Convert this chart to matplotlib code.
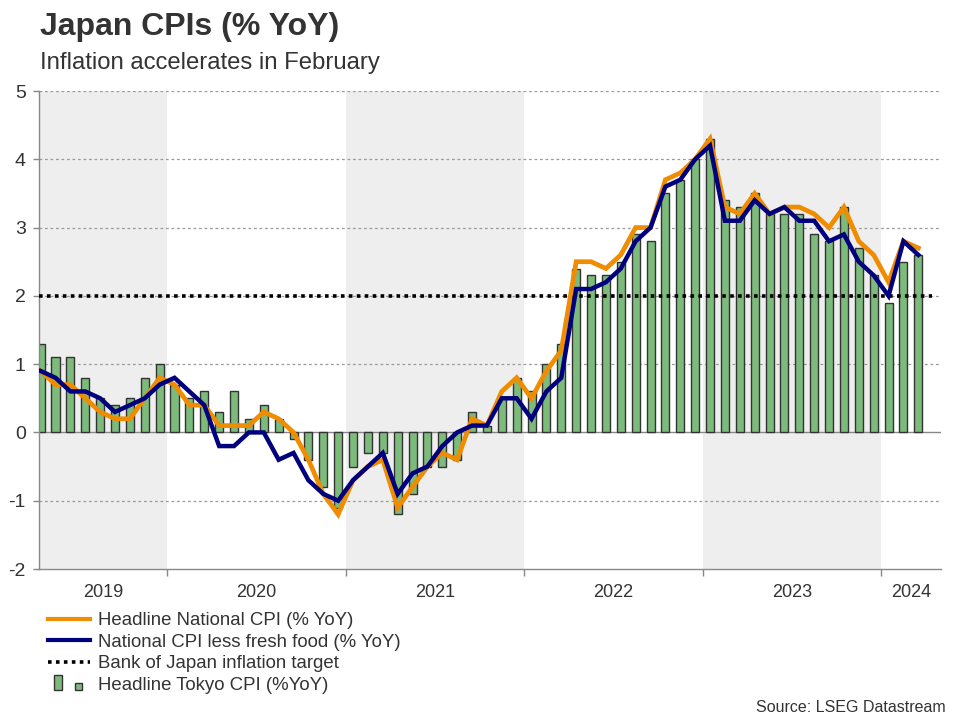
import numpy as np
import pandas as pd
import matplotlib
matplotlib.use("Agg")
import matplotlib.pyplot as plt
from matplotlib.lines import Line2D
from matplotlib.patches import Rectangle
from matplotlib.legend_handler import HandlerBase

plt.rcParams['font.family'] = ['Liberation Sans', 'DejaVu Sans']

# ---------------- data ----------------
months = pd.period_range('2019-04', '2024-03', freq='M')

headline_national = [
    0.9, 0.7, 0.7, 0.5, 0.3, 0.2, 0.2, 0.5, 0.8,                  # 2019 Apr-Dec
    0.7, 0.4, 0.4, 0.1, 0.1, 0.1, 0.3, 0.2, 0.0, -0.4, -0.9, -1.2,  # 2020
    -0.7, -0.5, -0.4, -1.1, -0.8, -0.5, -0.3, -0.4, 0.2, 0.1, 0.6, 0.8,  # 2021
    0.5, 0.9, 1.2, 2.5, 2.5, 2.4, 2.6, 3.0, 3.0, 3.7, 3.8, 4.0,     # 2022
    4.3, 3.3, 3.2, 3.5, 3.2, 3.3, 3.3, 3.2, 3.0, 3.3, 2.8, 2.6,     # 2023
    2.2, 2.8, 2.7,                                                  # 2024
]
core_national = [
    0.9, 0.8, 0.6, 0.6, 0.5, 0.3, 0.4, 0.5, 0.7,
    0.8, 0.6, 0.4, -0.2, -0.2, 0.0, 0.0, -0.4, -0.3, -0.7, -0.9, -1.0,
    -0.7, -0.5, -0.3, -0.9, -0.6, -0.5, -0.2, 0.0, 0.1, 0.1, 0.5, 0.5,
    0.2, 0.6, 0.8, 2.1, 2.1, 2.2, 2.4, 2.8, 3.0, 3.6, 3.7, 4.0,
    4.2, 3.1, 3.1, 3.4, 3.2, 3.3, 3.1, 3.1, 2.8, 2.9, 2.5, 2.3,
    2.0, 2.8, 2.6,
]
tokyo_headline = [
    1.3, 1.1, 1.1, 0.8, 0.5, 0.4, 0.5, 0.8, 1.0,
    0.7, 0.5, 0.6, 0.3, 0.6, 0.2, 0.4, 0.2, -0.1, -0.4, -0.8, -1.1,
    -0.5, -0.3, -0.3, -1.2, -0.9, -0.5, -0.5, -0.4, 0.3, 0.1, 0.5, 0.8,
    0.6, 1.0, 1.3, 2.4, 2.3, 2.3, 2.5, 2.9, 2.8, 3.5, 3.7, 4.0,
    4.3, 3.4, 3.3, 3.5, 3.2, 3.2, 3.2, 2.9, 2.8, 3.3, 2.7, 2.3,
    1.9, 2.5, 2.6,
]
boj_target = 2.0
years = [2019, 2020, 2021, 2022, 2023, 2024]
shaded_years = [2019, 2021, 2023]
y_ticks = [-2, -1, 0, 1, 2, 3, 4, 5]

labels = ['Headline National CPI (% YoY)',
          'National CPI less fresh food (% YoY)',
          'Bank of Japan inflation target',
          'Headline Tokyo CPI (%YoY)']

# ---------------- styles ----------------
ORANGE = '#EF8C00'
NAVY = '#00007F'
GREEN = '#7CBB7C'
EDGE = '#333333'
SHADE = '#EEEEEE'
TXT = '#333333'
GRID = '#999999'

W, H = 960, 720
fig = plt.figure(figsize=(9.6, 7.2), dpi=100)
ax_left, ax_right, ax_top, ax_bot = 39, 940.6, 91, 569
ax = fig.add_axes([ax_left / W, 1 - ax_bot / H, (ax_right - ax_left) / W, (ax_bot - ax_top) / H])

x = np.arange(len(months))
xmin, xmax = -0.11, len(months) + 0.5
ax.set_xlim(xmin, xmax)
ax.set_ylim(y_ticks[0], y_ticks[-1])

# year spans
year_arr = np.array([p.year for p in months])
bounds = {}
for i, yr in enumerate(years):
    idx = np.where(year_arr == yr)[0]
    a = max(idx[0] - 0.5, xmin)
    b = xmax if i == len(years) - 1 else idx[-1] + 0.5
    bounds[yr] = (a, b)
for yr in shaded_years:
    a, b = bounds[yr]
    ax.axvspan(a, b, color=SHADE, lw=0, zorder=0)

# grid
for yv in y_ticks:
    if yv == 0:
        ax.axhline(yv, color='#888888', lw=1.0, zorder=1)
    elif yv != y_ticks[0]:
        ax.axhline(yv, color=GRID, lw=0.9, ls=(0, (2.2, 2.2)), zorder=1)

# bars
ax.bar(x, tokyo_headline, width=0.54, color=GREEN, edgecolor=EDGE, linewidth=1.0, zorder=2)

# BoJ target
ax.axhline(boj_target, xmin=0.0, xmax=0.99, color='black', lw=2.6, ls=(0, (1, 1.2)), zorder=3)

# lines
ax.plot(x, headline_national, color=ORANGE, lw=3.4, zorder=4, solid_joinstyle='miter')
ax.plot(x, core_national, color=NAVY, lw=3.2, zorder=5, solid_joinstyle='miter')

# spines
for s in ['top', 'right']:
    ax.spines[s].set_visible(False)
for s in ['left', 'bottom']:
    ax.spines[s].set_color('#888888')
    ax.spines[s].set_linewidth(1.0)

# y ticks
ax.set_yticks(y_ticks)
ax.set_yticklabels([str(v) for v in y_ticks])
ax.tick_params(axis='y', length=4.5, width=1.0, color='#888888', labelsize=14, labelcolor=TXT, pad=5)

# x ticks: boundaries as major ticks, labels at year centres
ax.set_xticks([bounds[yr][0] for yr in years[1:]])
ax.set_xticklabels([])
ax.set_xticks([(bounds[yr][0] + bounds[yr][1]) / 2 for yr in years], minor=True)
ax.set_xticklabels([str(yr) for yr in years], minor=True)
ax.tick_params(axis='x', which='major', length=5, width=1.0, color='#888888')
ax.tick_params(axis='x', which='minor', length=0, labelsize=13, labelcolor=TXT, pad=10.5)

# titles
fig.text(40 / W, 1 - 35 / H, 'Japan CPIs (% YoY)', fontsize=23, fontweight='bold', color=TXT, va='baseline', ha='left')
fig.text(40 / W, 1 - 69 / H, 'Inflation accelerates in February', fontsize=17.2, color=TXT, va='baseline', ha='left')
fig.text(946 / W, 1 - 708 / H, 'Source: LSEG Datastream', fontsize=11.5, color=TXT, va='center', ha='right')


# legend
class TwoBarHandler(HandlerBase):
    def create_artists(self, legend, orig_handle, xdescent, ydescent, width, height, fontsize, trans):
        cy = -ydescent + height / 2
        r1 = Rectangle((-xdescent + 0.14 * width, cy - 5.3), 0.19 * width, 10.8,
                       facecolor=GREEN, edgecolor=EDGE, lw=1.0, transform=trans)
        r2 = Rectangle((-xdescent + 0.64 * width, cy - 5.3), 0.17 * width, 5.6,
                       facecolor=GREEN, edgecolor=EDGE, lw=1.0, transform=trans)
        return [r1, r2]


class TokyoProxy:
    pass


handles = [Line2D([], [], color=ORANGE, lw=3.0),
           Line2D([], [], color=NAVY, lw=3.0),
           Line2D([], [], color='black', lw=2.6, ls=(0, (1, 1.2))),
           TokyoProxy()]
fs = 13.4
fig.legend(handles, labels, loc='upper left', bbox_to_anchor=(48 / W, 1 - 612 / H),
           frameon=False, borderpad=0, borderaxespad=0, handlelength=2.25,
           handletextpad=0.42, labelspacing=0.24, fontsize=fs, labelcolor=TXT,
           handler_map={TokyoProxy: TwoBarHandler()})

fig.savefig('out.png', dpi=100)
